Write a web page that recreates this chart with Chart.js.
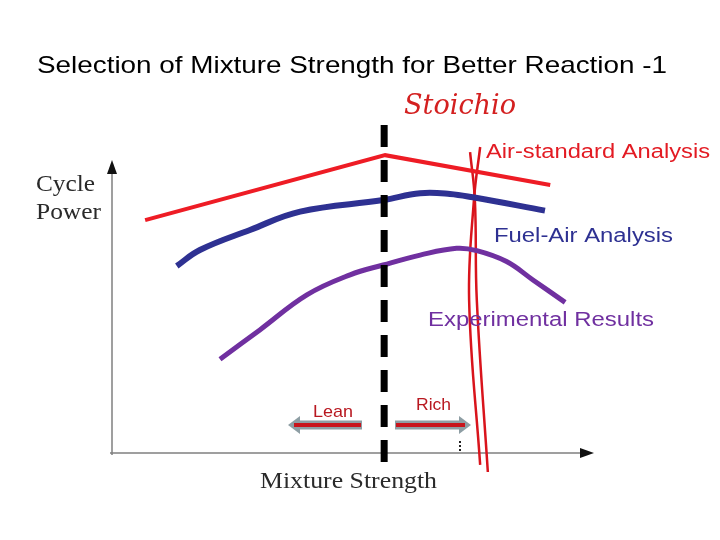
<!doctype html>
<html>
<head>
<title>Selection of Mixture Strength</title>
<script src="https://cdn.jsdelivr.net/npm/chart.js@4"></script>
<style>
body { margin: 0; background: #fff; }
</style>
</head>
<body>
<canvas id="canvas" width="720" height="540"></canvas>
<script>
// mixture strength (arbitrary units, 0 = axis origin) and cycle power (arbitrary units)
const airStdX = [6.9, 56.9, 91.3];
const airStdY = [68.5, 87.6, 78.8];
const fuelAirX = [13.5, 18.3, 28.75, 39.2, 56.5, 64.2, 70.4, 75.2, 90.2];
const fuelAirY = [55.0, 59.7, 65.6, 71.0, 74.4, 76.4, 76.2, 75.2, 71.3];
const expX = [22.5, 30.8, 40.6, 49.6, 56.5, 64.2, 71.8, 76.0, 82.2, 87.7, 94.4];
const expY = [27.6, 36.2, 46.5, 52.4, 55.3, 58.2, 60.2, 59.5, 56.3, 50.9, 44.3];
const stoichX = 56.7;
const stoichY = [96.5, -3.5];
// hand-drawn strokes over the slide
const stroke1X = [76.7, 75.4, 74.4, 76.7];
const stroke1Y = [90.0, 74.4, 45.0, -3.5];
const stroke2X = [74.6, 75.6, 76.0, 78.3];
const stroke2Y = [88.5, 74.4, 45.0, -5.6];

const pts = (xs, ys) => xs.map((x, i) => ({x: x, y: ys[i]}));

// slide text is stretched sideways, so fit each string to its width
function fitText(c, text, x, y, width) {
	const w = c.measureText(text).width;
	c.save();
	c.translate(x, y);
	c.scale(width / w, 1);
	c.fillText(text, 0, 0);
	c.restore();
}

const slideText = {
	id: 'slideText',
	beforeDatasetsDraw(chart) {
		const c = chart.ctx;
		const xs = chart.scales.x, ys = chart.scales.y;
		const x0 = xs.getPixelForValue(0), y0 = ys.getPixelForValue(0);
		c.save();
		c.strokeStyle = '#808080';
		c.lineWidth = 1.5;
		c.beginPath();
		c.moveTo(x0, y0 + 2);
		c.lineTo(x0, 172);
		c.moveTo(x0 - 2, y0);
		c.lineTo(582, y0);
		c.stroke();
		c.fillStyle = '#111';
		c.beginPath();
		c.moveTo(x0, 160); c.lineTo(x0 - 5, 174); c.lineTo(x0 + 5, 174); c.closePath();
		c.fill();
		c.beginPath();
		c.moveTo(594, y0); c.lineTo(580, y0 - 5); c.lineTo(580, y0 + 5); c.closePath();
		c.fill();
		c.restore();
	},
	afterDraw(chart) {
		const c = chart.ctx;
		c.save();
		c.textBaseline = 'alphabetic';
		c.textAlign = 'left';
		c.fillStyle = '#000';
		c.font = '24px "Liberation Sans", Arial, sans-serif';
		fitText(c, 'Selection of Mixture Strength for Better Reaction -1', 37, 73, 630);

		c.fillStyle = '#2a2a2a';
		c.font = '24px "Liberation Serif", "Times New Roman", serif';
		fitText(c, 'Cycle', 36, 191, 59);
		fitText(c, 'Power', 36, 219, 65);
		fitText(c, 'Mixture Strength', 260, 488, 177);

		c.font = '20px "Liberation Sans", Arial, sans-serif';
		c.fillStyle = '#e31b23';
		fitText(c, 'Air-standard Analysis', 486, 158, 224);
		c.fillStyle = '#2e3192';
		fitText(c, 'Fuel-Air Analysis', 494, 242, 179);
		c.fillStyle = '#7030a0';
		fitText(c, 'Experimental Results', 428, 326, 226);

		c.fillStyle = '#b81820';
		c.font = '17px "Liberation Sans", Arial, sans-serif';
		fitText(c, 'Lean', 313, 417, 40);
		fitText(c, 'Rich', 416, 410, 35);

		c.fillStyle = '#d42020';
		c.font = 'italic 28px "DejaVu Serif", serif';
		fitText(c, 'Stoichio', 404, 114, 112);

		// lean / rich arrows
		const arrow = (xa, xb, y) => {
			const dir = xb > xa ? 1 : -1;
			c.strokeStyle = '#8e9ea4';
			c.lineWidth = 9;
			c.beginPath();
			c.moveTo(xa, y); c.lineTo(xb - dir * 8, y);
			c.stroke();
			c.fillStyle = '#8e9ea4';
			c.beginPath();
			c.moveTo(xb, y); c.lineTo(xb - dir * 12, y - 9); c.lineTo(xb - dir * 12, y + 9); c.closePath();
			c.fill();
			c.strokeStyle = '#c8141c';
			c.lineWidth = 4;
			c.beginPath();
			c.moveTo(xa + (dir > 0 ? 1 : -1), y); c.lineTo(xb - dir * 6, y);
			c.stroke();
		};
		arrow(362, 288, 425);
		arrow(395, 471, 425);

		c.fillStyle = '#222';
		c.fillRect(459, 441, 2, 2);
		c.fillRect(459, 445, 2, 2);
		c.fillRect(459, 449, 2, 2);
		c.restore();
	}
};

window.onload = function() {
	const ctx = document.getElementById('canvas').getContext('2d');
	window.myChart = new Chart(ctx, {
		type: 'line',
		data: {
			datasets: [{
				label: 'Stoichiometric',
				data: pts([stoichX, stoichX], stoichY),
				borderColor: '#000',
				borderWidth: 7,
				borderDash: [22, 13],
				pointRadius: 0,
				clip: false
			}, {
				label: 'Air-standard Analysis',
				data: pts(airStdX, airStdY),
				borderColor: '#ee1c25',
				borderWidth: 4,
				pointRadius: 0,
				tension: 0
			}, {
				label: 'Fuel-Air Analysis',
				data: pts(fuelAirX, fuelAirY),
				borderColor: '#2e3192',
				borderWidth: 6,
				pointRadius: 0,
				tension: 0.4
			}, {
				label: 'Experimental Results',
				data: pts(expX, expY),
				borderColor: '#7030a0',
				borderWidth: 5,
				pointRadius: 0,
				tension: 0.4
			}, {
				label: 'stroke 1',
				data: pts(stroke1X, stroke1Y),
				borderColor: '#d9141c',
				borderWidth: 2.5,
				pointRadius: 0,
				tension: 0.4,
				clip: false
			}, {
				label: 'stroke 2',
				data: pts(stroke2X, stroke2Y),
				borderColor: '#d9141c',
				borderWidth: 2.5,
				pointRadius: 0,
				tension: 0.4,
				clip: false
			}]
		},
		options: {
			responsive: false,
			animation: false,
			layout: {
				padding: {left: 112, right: 128, top: 113, bottom: 87}
			},
			scales: {
				x: {type: 'linear', min: 0, max: 100, display: false},
				y: {type: 'linear', min: 0, max: 100, display: false}
			},
			plugins: {
				legend: {display: false},
				tooltip: {enabled: false}
			}
		},
		plugins: [slideText]
	});
};
</script>
</body>
</html>
